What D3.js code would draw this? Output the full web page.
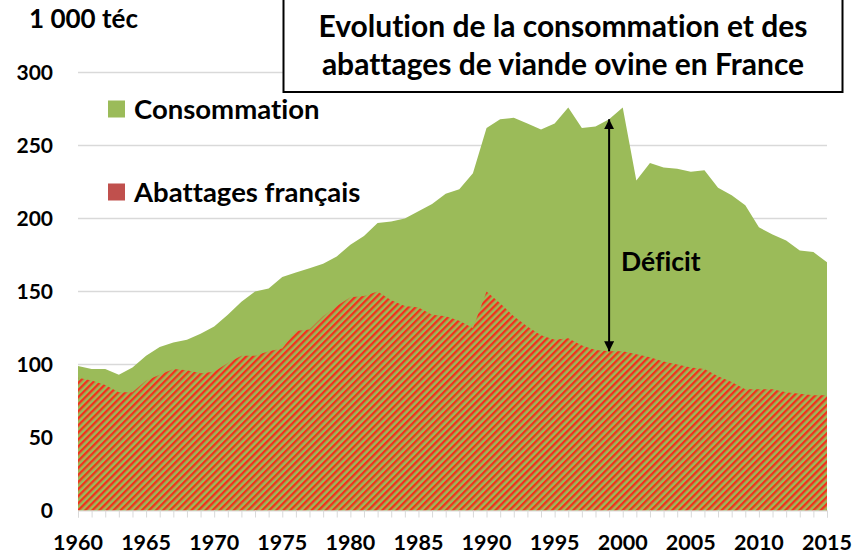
<!DOCTYPE html>
<html lang="fr">
<head>
    <meta charset="UTF-8">
    <title>Viande ovine en France</title>
    <script src="https://d3js.org/d3.v7.min.js"></script>
    <style>
        body { margin: 0; background: #fff; }
        svg text {
            font-family: Lato, "Open Sans", sans-serif;
            font-weight: bold;
            fill: #000;
            font-variant-ligatures: none;
        }
    </style>
</head>
<body>
    <div id="chart"></div>

    <script>
        // Données (1 000 téc)
        const years = d3.range(1960, 2016);
        const consommation = [
            99, 97, 97, 93, 98, 106, 112, 115, 117, 121,
            126, 134, 143, 150, 152, 160, 163, 166, 169, 174,
            182, 188, 197, 198, 200, 205, 210, 217, 220, 231,
            262, 268, 269, 265, 261, 265, 276, 262, 263, 268,
            276, 226, 238, 235, 234, 232, 233, 221, 216, 209,
            194, 189, 185, 178, 177, 170
        ];
        const abattages = [
            91, 89, 86, 81, 81, 89, 93, 97, 96, 94,
            95, 101, 106, 106, 109, 111, 123, 124, 133, 140,
            146, 147, 150, 144, 140, 139, 134, 133, 130, 125,
            150, 142, 133, 126, 120, 117, 118, 113, 110, 109,
            109, 107, 105, 102, 100, 98, 97, 92, 88, 83,
            83, 83, 81, 80, 79, 79
        ];
        const yTicks = [0, 50, 100, 150, 200, 250, 300];
        const xLabels = [1960, 1965, 1970, 1975, 1980, 1985, 1990, 1995, 2000, 2005, 2010, 2015];
        const deficitYear = 1999;

        const width = 854, height = 554;

        const svg = d3.select("#chart")
            .append("svg")
            .attr("width", width)
            .attr("height", height);

        const x = d3.scaleLinear().domain([1960, 2015]).range([78, 827]);
        const y = d3.scaleLinear().domain([0, 300]).range([510.5, 72.5]);

        // Hachures rouges sur fond vert
        const defs = svg.append("defs");
        const pat = defs.append("pattern")
            .attr("id", "hatch")
            .attr("patternUnits", "userSpaceOnUse")
            .attr("width", 5)
            .attr("height", 5)
            .attr("patternTransform", "rotate(45)");
        pat.append("rect").attr("width", 5).attr("height", 5).attr("fill", "#9BBB59");
        pat.append("rect").attr("width", 2.4).attr("height", 5).attr("fill", "#F2301E");

        // Flèche
        defs.append("marker")
            .attr("id", "arrow")
            .attr("viewBox", "0 0 10 10")
            .attr("refX", 10).attr("refY", 5)
            .attr("markerWidth", 5).attr("markerHeight", 5)
            .attr("markerUnits", "strokeWidth")
            .attr("orient", "auto-start-reverse")
            .append("path")
            .attr("d", "M0,0 L10,5 L0,10 Z")
            .attr("fill", "#000");

        // Grille
        svg.append("g")
            .selectAll("line")
            .data(yTicks.filter(d => d > 0))
            .enter()
            .append("line")
            .attr("x1", x(1960)).attr("x2", x(2015))
            .attr("y1", d => y(d)).attr("y2", d => y(d))
            .attr("stroke", "#D9D9D9")
            .attr("stroke-width", 1.5);

        const area = d3.area()
            .x((d, i) => x(years[i]))
            .y0(y(0))
            .y1(d => y(d));

        svg.append("path")
            .datum(consommation)
            .attr("d", area)
            .attr("fill", "#9BBB59");

        svg.append("path")
            .datum(abattages)
            .attr("d", area)
            .attr("fill", "url(#hatch)");

        // Axe X : graduations annuelles
        const xAxis = svg.append("g")
            .attr("transform", `translate(0,${y(0)})`)
            .call(d3.axisBottom(x).tickValues(years).tickSize(7).tickFormat(""));
        xAxis.select(".domain").attr("stroke", "#D9D9D9");
        xAxis.selectAll(".tick line").attr("stroke", "#D9D9D9");

        svg.append("g")
            .selectAll("text")
            .data(xLabels)
            .enter()
            .append("text")
            .attr("x", d => x(d))
            .attr("y", 550)
            .attr("text-anchor", "middle")
            .attr("font-size", 21.5)
            .text(d => d);

        // Axe Y
        svg.append("g")
            .selectAll("text")
            .data(yTicks)
            .enter()
            .append("text")
            .attr("x", 53)
            .attr("y", d => y(d))
            .attr("dy", "0.36em")
            .attr("text-anchor", "end")
            .attr("font-size", 21)
            .text(d => d);

        svg.append("text")
            .attr("x", 29).attr("y", 28)
            .attr("font-size", 26)
            .text("1 000 téc");

        // Titre encadré
        svg.append("rect")
            .attr("x", 283.5).attr("y", -3)
            .attr("width", 559).attr("height", 95)
            .attr("fill", "#fff")
            .attr("stroke", "#000")
            .attr("stroke-width", 2);

        const title = ["Evolution de la consommation et des", "abattages de viande ovine en France"];
        svg.append("g")
            .selectAll("text")
            .data(title)
            .enter()
            .append("text")
            .attr("x", 563)
            .attr("y", (d, i) => 37 + i * 38)
            .attr("text-anchor", "middle")
            .attr("font-size", 30)
            .text(d => d);

        // Légende
        const legend = [
            { label: "Consommation", color: "#9BBB59", y: 109 },
            { label: "Abattages français", color: "#C0504D", y: 192 }
        ];
        const lg = svg.append("g")
            .selectAll("g")
            .data(legend)
            .enter()
            .append("g");
        lg.append("rect")
            .attr("x", 108).attr("y", d => d.y - 8.5)
            .attr("width", 17).attr("height", 17)
            .attr("fill", d => d.color);
        lg.append("text")
            .attr("x", 134).attr("y", d => d.y)
            .attr("dy", "0.36em")
            .attr("font-size", 27.5)
            .text(d => d.label);

        // Déficit
        const di = years.indexOf(deficitYear);
        svg.append("line")
            .attr("x1", x(deficitYear)).attr("x2", x(deficitYear))
            .attr("y1", y(abattages[di])).attr("y2", y(consommation[di]))
            .attr("stroke", "#000")
            .attr("stroke-width", 2)
            .attr("marker-start", "url(#arrow)")
            .attr("marker-end", "url(#arrow)");

        svg.append("text")
            .attr("x", 621).attr("y", 271)
            .attr("font-size", 26.5)
            .text("Déficit");
    </script>
</body>
</html>
